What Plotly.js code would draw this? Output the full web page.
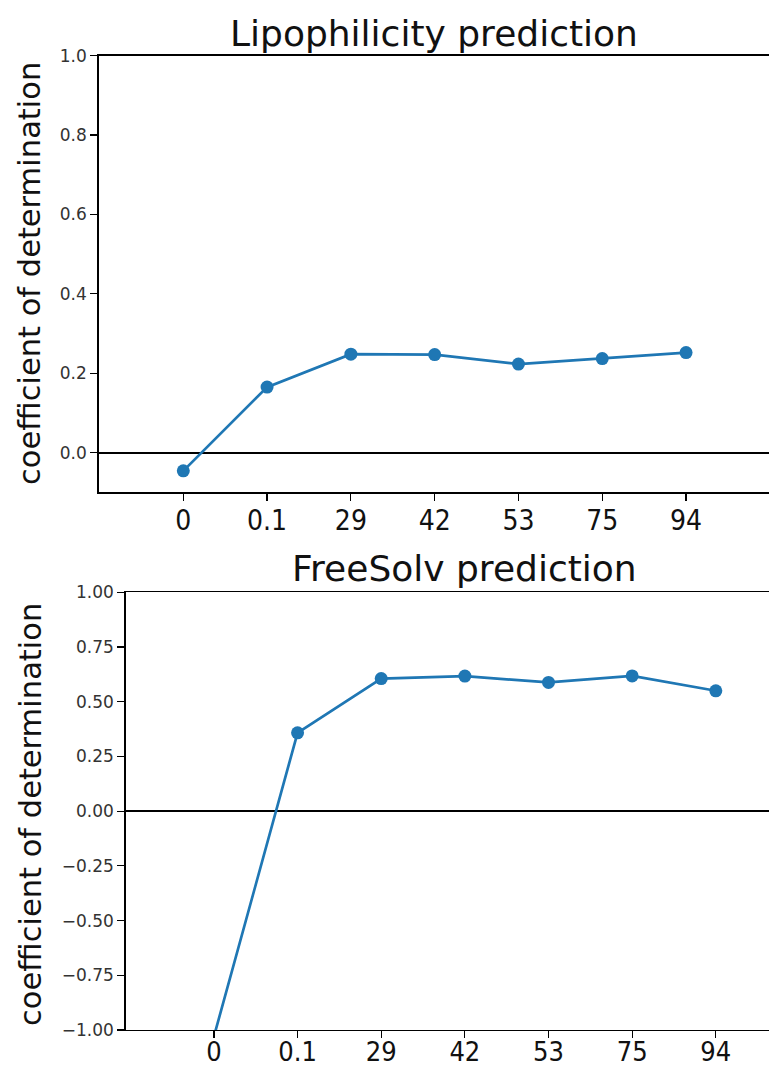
<!DOCTYPE html>
<html>
<head>
<meta charset="utf-8">
<script src="https://cdn.plot.ly/plotly-3.0.1.min.js"></script>
<style>html,body{margin:0;padding:0;background:#fff;}#plot{width:769px;height:1070px;}</style>
</head>
<body>
<div id="plot"></div>
<script>
const categories = ["0", "0.1", "29", "42", "53", "75", "94"];
const lipoValues = [-0.046, 0.165, 0.248, 0.247, 0.223, 0.237, 0.252];
const freesolvValues = [-1.03, 0.358, 0.606, 0.617, 0.588, 0.618, 0.55];
const topTitle = "Lipophilicity prediction";
const bottomTitle = "FreeSolv prediction";
const yLabel = "coefficient of determination";

const W = 769, H = 1070;
const blue = "#1f77b4";
const lineStyle = {color: blue, width: 2.7};
const markerStyle = {color: blue, size: 13};

const traces = [
  {x: categories, y: lipoValues, type: "scatter", mode: "lines+markers",
   line: lineStyle, marker: markerStyle, xaxis: "x", yaxis: "y", cliponaxis: true},
  {x: categories, y: freesolvValues, type: "scatter", mode: "lines+markers",
   line: lineStyle, marker: markerStyle, xaxis: "x2", yaxis: "y2", cliponaxis: true}
];

const yTickFont = {family: "DejaVu Sans", size: 17, color: "#333"};

function xAxis(domain, range, anchor, fontSize, standoff) {
  return {
    type: "category", domain: domain, range: range, anchor: anchor,
    showline: true, linecolor: "#000", linewidth: 1.3, mirror: true,
    ticks: "outside", ticklen: 7, tickwidth: 1.2, tickcolor: "#000",
    ticklabelstandoff: standoff,
    showgrid: false, zeroline: false,
    tickfont: {family: "DejaVu Sans Condensed, DejaVu Sans", size: fontSize, color: "#111"},
    fixedrange: true, automargin: false
  };
}
function yAxis(domain, range, dtick, fmt, anchor) {
  return {
    domain: domain, range: range, anchor: anchor, dtick: dtick, tick0: 0, tickformat: fmt,
    showline: true, linecolor: "#000", linewidth: 1.3, mirror: false,
    ticks: "outside", ticklen: 7, tickwidth: 1.2, tickcolor: "#000",
    showgrid: false, zeroline: true, zerolinecolor: "#000", zerolinewidth: 1.8,
    tickfont: yTickFont, fixedrange: true, automargin: false
  };
}

const layout = {
  width: W, height: H,
  margin: {l: 0, r: 0, t: 0, b: 0, pad: 0},
  paper_bgcolor: "#fff", plot_bgcolor: "#fff",
  showlegend: false,
  xaxis: xAxis([98.5 / W, 1], [-1.012, 6.99], "y", 28, -4),
  yaxis: yAxis([1 - 492.3 / H, 1 - 55.7 / H], [-0.1, 1.0], 0.2, ".1f", "x"),
  xaxis2: xAxis([125.5 / W, 1], [-1.057, 6.636], "y2", 27, -10),
  yaxis2: yAxis([1 - 1030 / H, 1 - 592.3 / H], [-1, 1], 0.25, ".2f", "x2"),
  annotations: [
    {text: topTitle, xref: "paper", yref: "paper", x: 433.5 / W, y: 1 - 33 / H,
     xanchor: "center", yanchor: "middle", showarrow: false,
     font: {family: "DejaVu Sans", size: 36, color: "#111"}},
    {text: bottomTitle, xref: "paper", yref: "paper", x: 464 / W, y: 1 - 568 / H,
     xanchor: "center", yanchor: "middle", showarrow: false,
     font: {family: "DejaVu Sans", size: 36, color: "#111"}},
    {text: yLabel, xref: "paper", yref: "paper", x: 30 / W, y: 1 - 274 / H,
     xanchor: "center", yanchor: "middle", textangle: -90, showarrow: false,
     font: {family: "DejaVu Sans", size: 30.5, color: "#111"}},
    {text: yLabel, xref: "paper", yref: "paper", x: 30 / W, y: 1 - 815 / H,
     xanchor: "center", yanchor: "middle", textangle: -90, showarrow: false,
     font: {family: "DejaVu Sans", size: 30.5, color: "#111"}}
  ]
};

Plotly.newPlot("plot", traces, layout, {staticPlot: true, displayModeBar: false});
</script>
</body>
</html>
